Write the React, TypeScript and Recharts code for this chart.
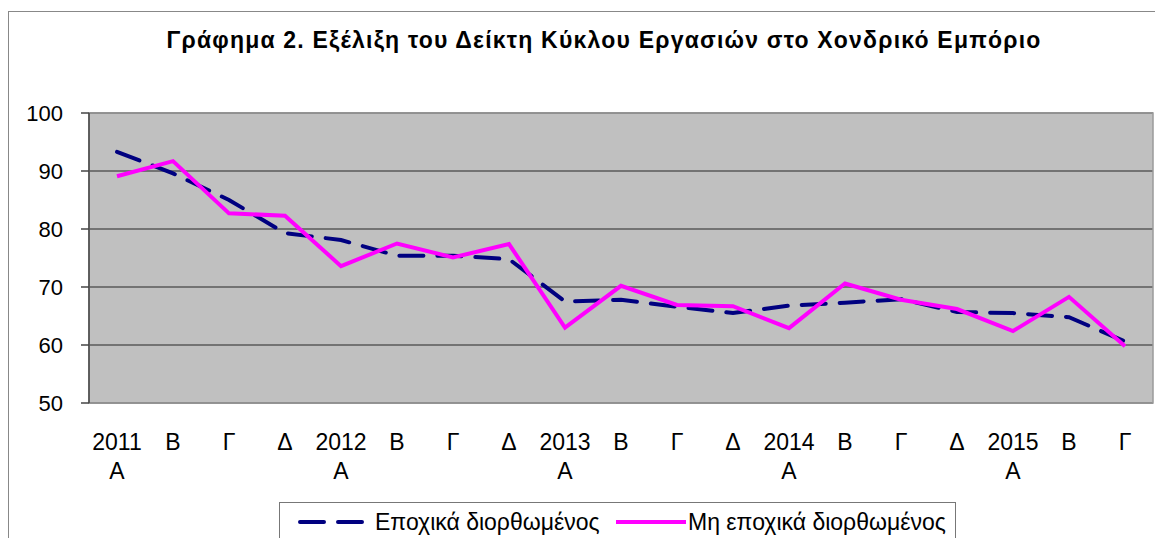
import React from "react";
import {
  LineChart,
  Line,
  XAxis,
  YAxis,
  CartesianGrid,
  Legend,
  ReferenceArea,
} from "recharts";

const topLabels = ["2011", "Β", "Γ", "Δ", "2012", "Β", "Γ", "Δ", "2013", "Β", "Γ", "Δ", "2014", "Β", "Γ", "Δ", "2015", "Β", "Γ"];
const bottomLabels = ["Α", "", "", "", "Α", "", "", "", "Α", "", "", "", "Α", "", "", "", "Α", "", ""];

const seasonallyAdjusted = [93.3, 89.6, 85.0, 79.3, 78.1, 75.4, 75.4, 74.8, 67.5, 67.8, 66.6, 65.5, 66.8, 67.3, 67.9, 65.7, 65.5, 64.8, 60.6];
const notSeasonallyAdjusted = [89.1, 91.7, 82.7, 82.3, 73.6, 77.5, 75.1, 77.4, 63.0, 70.2, 66.9, 66.7, 62.9, 70.6, 67.8, 66.2, 62.4, 68.3, 59.8];

const yTicks = [50, 60, 70, 80, 90, 100];
const boundaryTicks = topLabels.map((_, i) => i).concat([topLabels.length]);
const centerTicks = topLabels.map((_, i) => i + 0.5);

const seriesNames = ["Εποχικά διορθωμένος", "Μη εποχικά διορθωμένος"];
const title = "Γράφημα 2. Εξέλιξη του Δείκτη Κύκλου Εργασιών στο Χονδρικό Εμπόριο";

const data = topLabels.map((lab, i) => ({
  x: i + 0.5,
  sa: seasonallyAdjusted[i],
  nsa: notSeasonallyAdjusted[i],
}));

const FONT = "'Liberation Sans', Arial, sans-serif";

const CategoryTick = (props: any) => {
  const { x, y, payload } = props;
  const idx = Math.floor(payload.value);
  return (
    <text x={x} y={y} textAnchor="middle" fontSize={23} fontFamily={FONT} fill="#000">
      <tspan x={x} dy={47}>{topLabels[idx]}</tspan>
      {bottomLabels[idx] ? <tspan x={x} dy={29}>{bottomLabels[idx]}</tspan> : null}
    </text>
  );
};

const LegendBox = () => (
  <div
    style={{
      position: "relative",
      width: 677,
      height: 50,
      border: "1px solid #777",
      background: "#fff",
      boxSizing: "border-box",
      fontFamily: FONT,
      fontSize: 23,
      color: "#000",
    }}
  >
    <svg style={{ position: "absolute", left: 18, top: 14 }} width={68} height={10}>
      <line x1={2} y1={5} x2={66} y2={5} stroke="#000080" strokeWidth={4} strokeDasharray="24 14" strokeLinecap="round" />
    </svg>
    <span style={{ position: "absolute", left: 95, top: 6, lineHeight: "26px", whiteSpace: "nowrap" }}>{seriesNames[0]}</span>
    <svg style={{ position: "absolute", left: 336, top: 14 }} width={70} height={10}>
      <line x1={0} y1={5} x2={70} y2={5} stroke="#ff00ff" strokeWidth={4} />
    </svg>
    <span style={{ position: "absolute", left: 408, top: 6, lineHeight: "26px", whiteSpace: "nowrap" }}>{seriesNames[1]}</span>
  </div>
);

export default function App() {
  return (
    <div
      style={{
        position: "absolute",
        left: 0,
        top: 0,
        width: 1155,
        height: 538,
        overflow: "hidden",
        background: "#fff",
      }}
    >
      <div
        style={{
          position: "absolute",
          left: 8,
          top: 11,
          width: 1200,
          height: 600,
          border: "1.5px solid #888",
          boxSizing: "border-box",
        }}
      />
      <div
        style={{
          position: "absolute",
          left: 8,
          top: 29,
          width: 1192,
          textAlign: "center",
          fontFamily: FONT,
          fontWeight: "bold",
          fontSize: 23,
          letterSpacing: "1.2px",
          lineHeight: "22px",
          color: "#000",
          whiteSpace: "nowrap",
        }}
      >
        {title}
      </div>
      <div style={{ position: "absolute", left: 0, top: 0 }}>
        <LineChart
          width={1155}
          height={538}
          data={data}
          margin={{ top: 113, right: 2, bottom: 0, left: 8 }}
        >
          <CartesianGrid
            xAxisId="a"
            vertical={false}
            fill="#c0c0c0"
            fillOpacity={1}
            stroke="#5a5a5a"
            strokeWidth={1.5}
          />
          <ReferenceArea
            xAxisId="a"
            x1={0}
            x2={boundaryTicks.length - 1}
            y1={50}
            y2={100}
            fill="none"
            stroke="#9a9a9a"
            strokeWidth={1.5}
            ifOverflow="visible"
          />
          <XAxis
            xAxisId="a"
            type="number"
            dataKey="x"
            domain={[0, boundaryTicks.length - 1]}
            ticks={boundaryTicks}
            interval={0}
            tick={false}
            tickSize={8}
            height={0}
            axisLine={{ stroke: "#444", strokeWidth: 1.5 }}
            tickLine={{ stroke: "#444", strokeWidth: 1.5 }}
          />
          <XAxis
            xAxisId="b"
            type="number"
            dataKey="x"
            domain={[0, boundaryTicks.length - 1]}
            ticks={centerTicks}
            interval={0}
            tick={<CategoryTick />}
            tickSize={0}
            tickMargin={0}
            tickLine={false}
            axisLine={false}
            height={135}
          />
          <YAxis
            type="number"
            domain={[50, 100]}
            ticks={yTicks}
            interval={0}
            width={81}
            tickSize={8}
            tickMargin={18}
            tick={{ fontSize: 22, fontFamily: FONT, fill: "#000" }}
            axisLine={{ stroke: "#444", strokeWidth: 1.5 }}
            tickLine={{ stroke: "#444", strokeWidth: 1.5 }}
          />
          <Line
            xAxisId="a"
            type="linear"
            dataKey="sa"
            name={seriesNames[0]}
            stroke="#000080"
            strokeWidth={4}
            strokeDasharray="24 14"
            strokeLinecap="round"
            dot={false}
            activeDot={false}
            isAnimationActive={false}
          />
          <Line
            xAxisId="a"
            type="linear"
            dataKey="nsa"
            name={seriesNames[1]}
            stroke="#ff00ff"
            strokeWidth={4}
            dot={false}
            activeDot={false}
            isAnimationActive={false}
          />
          <Legend
            layout="horizontal"
            verticalAlign="middle"
            align="center"
            content={<LegendBox />}
            wrapperStyle={{ left: 279, top: 502, width: 677, height: 50 }}
          />
        </LineChart>
      </div>
    </div>
  );
}
